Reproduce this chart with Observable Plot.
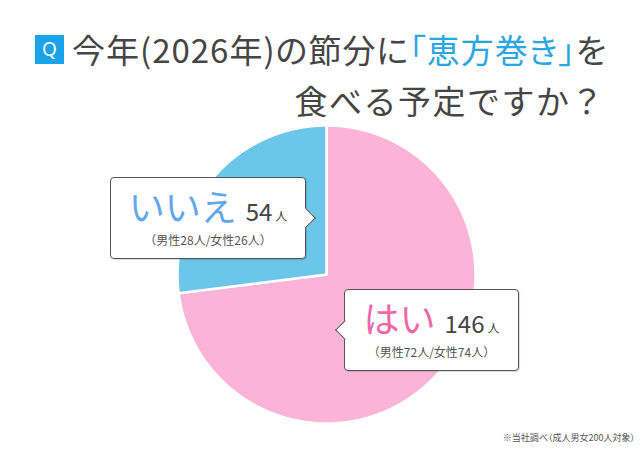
<!DOCTYPE html>
<html>
<head>
<meta charset="utf-8">
<script src="https://cdn.jsdelivr.net/npm/d3@7"></script>
<script src="https://cdn.jsdelivr.net/npm/@observablehq/plot@0.6"></script>
<style>
  html, body { margin: 0; padding: 0; background: #fff; }
  #wrap { position: relative; width: 642px; height: 450px; overflow: hidden;
    font-family: "Noto Sans CJK JP", "Noto Sans", sans-serif; color: #444; }
  #wrap svg { position: absolute; left: 0; top: 0; }
  .title { position: absolute; font-size: 33px; color: #454545; white-space: nowrap; line-height: 1; }
  .t1 { font-feature-settings: "palt"; letter-spacing: 1px; }
  .t2 { letter-spacing: 1.5px; }
  .qbox { position: absolute; left: 35px; top: 35px; width: 29px; height: 29px; background: #1aa3ea;
    color: #fff; font-size: 19px; line-height: 29px; text-align: center; font-family: "Noto Sans", sans-serif; }
  .hl { color: #2aa6e2; }
  .callout { position: absolute; background: #fff; border: 1.3px solid #555; border-radius: 4px;
    box-shadow: 1px 1px 1px rgba(0,0,0,0.15); display: flex; flex-direction: column;
    align-items: center; justify-content: center; box-sizing: border-box; }
  .callout .ptr { position: absolute; width: 13px; height: 13px; background: #fff; top: 50%;
    transform: translateY(-50%) rotate(45deg); }
  .callout.right .ptr { right: -7.5px; border-top: 1.3px solid #555; border-right: 1.3px solid #555; }
  .callout.left .ptr { left: -7.5px; border-bottom: 1.3px solid #555; border-left: 1.3px solid #555; }
  .main { display: flex; align-items: baseline; line-height: 0.85; white-space: nowrap; }
  .lab { font-size: 36px; }
  .num { font-size: 24px; color: #444; margin-left: 9px; }
  .unit { font-size: 12px; color: #444; margin-left: 3px; }
  .sub { font-size: 12px; color: #555; margin-top: 12px; white-space: nowrap; line-height: 1; }
  .note { position: absolute; right: 7px; top: 431px; font-size: 9px; color: #555; white-space: nowrap;
    font-feature-settings: "palt"; }
</style>
</head>
<body>
<div id="wrap"></div>
<script>
// ---- data ----
const answers = ["はい", "いいえ"];
const counts = [146, 54];
const maleCounts = [72, 28];
const femaleCounts = [74, 26];
const unitLabel = "人";
const titleLine1 = ["今年(2026年)の節分に", "「恵方巻き」", "を"];
const titleLine2 = "食べる予定ですか？";
const footnote = "※当社調べ（成人男女200人対象）";

// ---- styles / layout ----
const sliceColors = ["#fbb4d7", "#6bc6ea"];
const labelColors = ["#ee68a8", "#62a6ee"];
const callouts = [
  { left: 344, top: 289, width: 175, height: 82, side: "left" },
  { left: 110, top: 177, width: 196, height: 82, side: "right" }
];

// ---- pie geometry via d3.pie ----
const arcs = d3.pie().sort(null).startAngle(0).endAngle(2 * Math.PI)(counts);
const pts = [];
arcs.forEach((a, i) => {
  const n = Math.max(2, Math.ceil((a.endAngle - a.startAngle) / (Math.PI / 360)));
  for (let k = 0; k <= n; k++) {
    const t = a.startAngle + (a.endAngle - a.startAngle) * k / n;
    pts.push({ name: answers[i], x: Math.sin(t), y: Math.cos(t), cx: 0, cy: 0 });
  }
});

const plot = Plot.plot({
  width: 642, height: 450,
  margin: 0,
  x: { domain: [-1, 1], range: [177.5, 475.5], axis: null },
  y: { domain: [-1, 1], range: [423.5, 125.5], axis: null },
  color: { domain: answers, range: sliceColors },
  marks: [
    Plot.area(pts, { x1: "cx", y1: "cy", x2: "x", y2: "y", fill: "name", z: "name",
      stroke: "#fff", strokeWidth: 2.5, strokeLinejoin: "round" })
  ]
});

const wrap = document.getElementById("wrap");
wrap.appendChild(plot);

// title
const q = document.createElement("div");
q.className = "qbox"; q.textContent = "Q";
wrap.appendChild(q);
const t1 = document.createElement("div");
t1.className = "title t1";
t1.style.left = "72px"; t1.style.top = "33px";
t1.innerHTML = `${titleLine1[0]}<span class="hl">${titleLine1[1]}</span>${titleLine1[2]}`;
wrap.appendChild(t1);
const t2 = document.createElement("div");
t2.className = "title t2";
t2.style.right = "37px"; t2.style.top = "84px";
t2.textContent = titleLine2;
wrap.appendChild(t2);

// callouts
answers.forEach((name, i) => {
  const c = callouts[i];
  const d = document.createElement("div");
  d.className = "callout " + c.side;
  Object.assign(d.style, { left: c.left + "px", top: c.top + "px", width: c.width + "px", height: c.height + "px" });
  d.innerHTML = `<div class="ptr"></div>
    <div class="main"><span class="lab" style="color:${labelColors[i]}">${name}</span><span class="num">${counts[i]}</span><span class="unit">${unitLabel}</span></div>
    <div class="sub">（男性${maleCounts[i]}${unitLabel}/女性${femaleCounts[i]}${unitLabel}）</div>`;
  wrap.appendChild(d);
});

const note = document.createElement("div");
note.className = "note"; note.textContent = footnote;
wrap.appendChild(note);
</script>
</body>
</html>
